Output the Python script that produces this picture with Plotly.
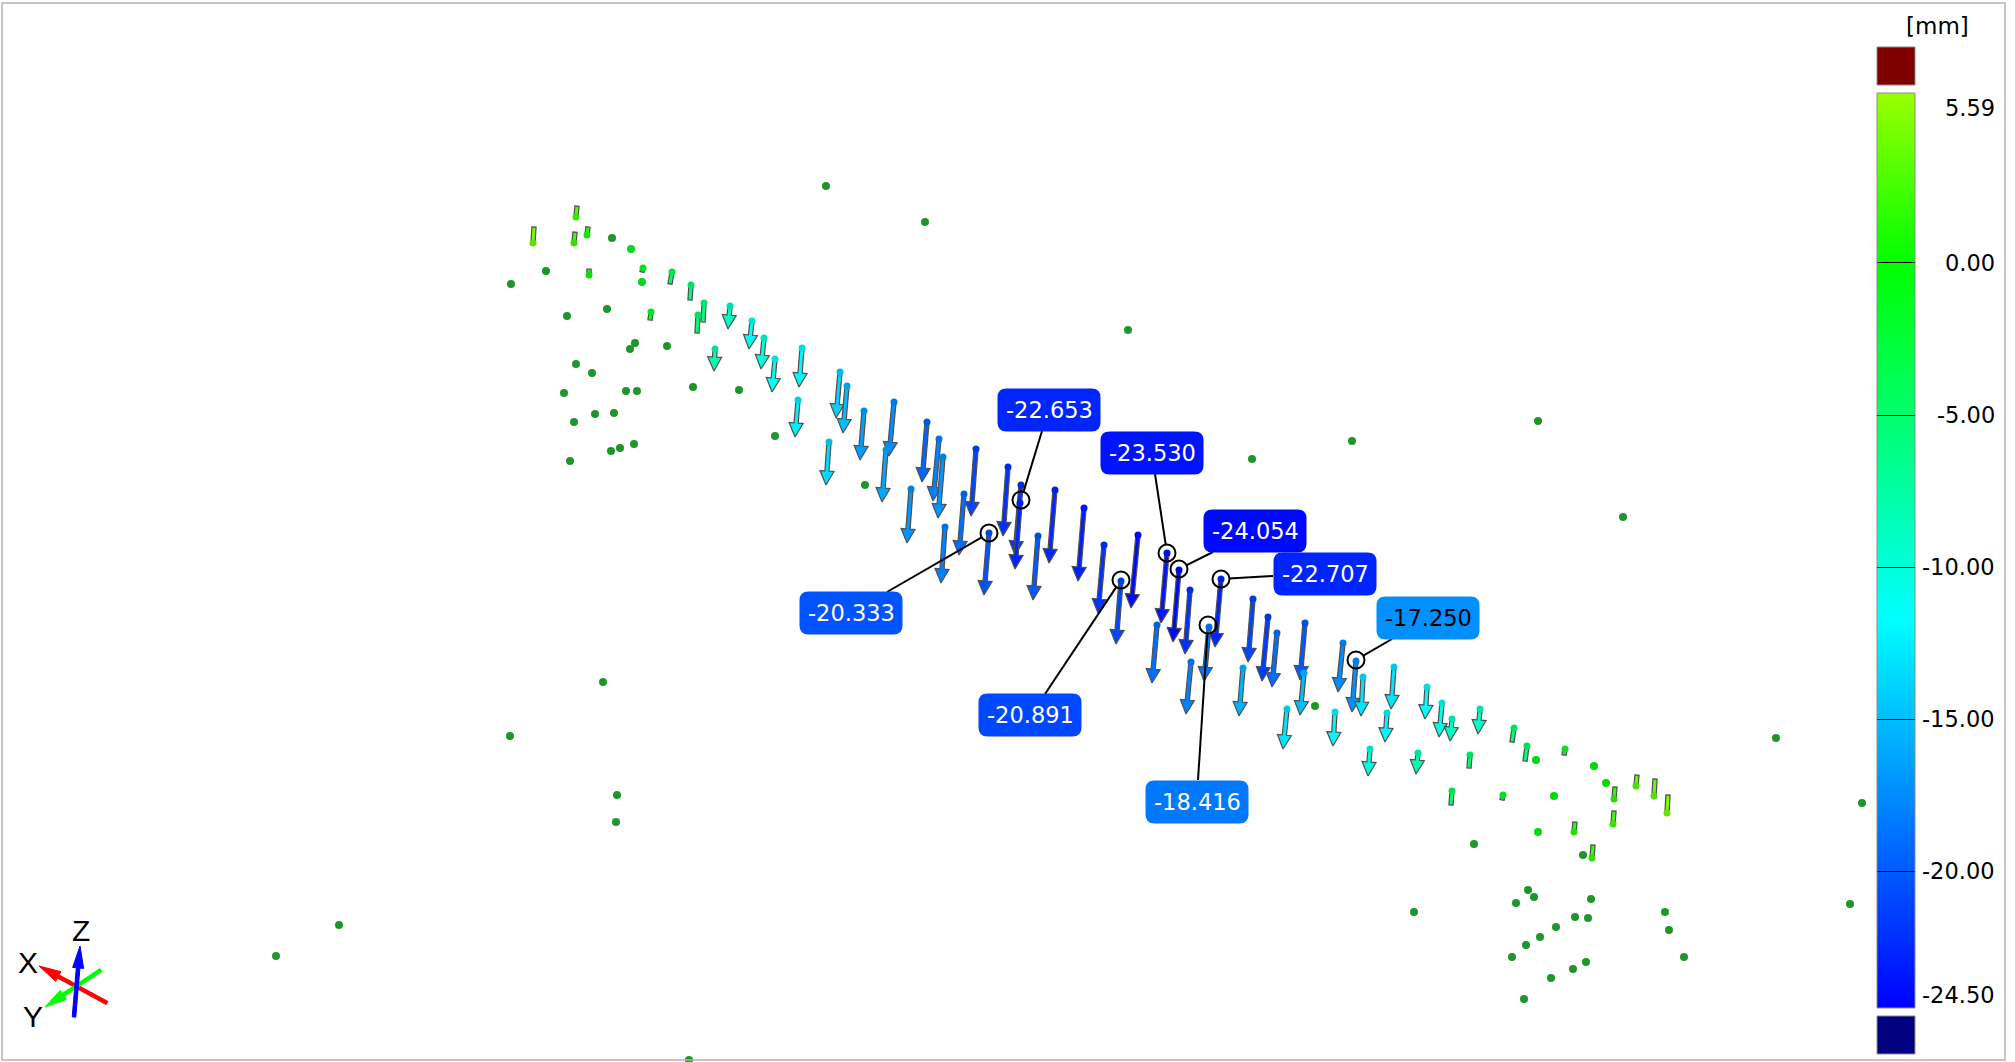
import math
import plotly.graph_objects as go

# Deviation arrows, in the picture's own screen units: ball end, tip end, value in mm
arrow_x0 = [533,576,574,587,589,643,672,691,704,698,651,730,752,764,775,802,715,840,847,864,798,
            829,894,886,927,939,943,976,911,1008,964,945,989,1021,1020,1055,1038,1084,1104,1138,1121,1167,1179,
            1190,1221,1157,1209,1191,1253,1268,1277,1305,1243,1304,1343,1356,1363,1394,1287,1335,1387,1427,1442,
            1452,1480,1370,1418,1470,1514,1527,1565,1614,1636,1654,1667,1613,1574,1592,1503,1452]
arrow_y0 = [243,217,243,235,275,268,272,285,303,315,312,306,321,338,359,348,349,372,386,411,400,
            442,402,450,422,439,457,449,489,467,494,527,533,485,503,490,536,508,545,535,581,553,570,
            590,579,625,627,662,599,617,633,623,668,673,643,661,677,667,709,712,713,687,703,
            719,709,749,753,755,728,746,749,799,786,796,813,824,832,858,795,791]
arrow_x1 = [534,577,575,588,589,642,670,690,703,697,650,728,749,761,772,799,714,836,843,860,795,
            826,889,882,922,933,938,971,907,1003,959,941,984,1015,1015,1049,1033,1078,1098,1131,1116,1161,1173,
            1185,1215,1152,1204,1186,1248,1262,1272,1300,1239,1300,1338,1352,1361,1391,1283,1333,1385,1425,1439,
            1450,1478,1368,1416,1469,1512,1525,1564,1615,1637,1655,1668,1614,1575,1593,1502,1451]
arrow_y1 = [227,206,232,227,269,272,284,300,322,333,320,329,349,369,392,387,371,418,433,460,437,
            485,456,502,482,501,518,516,543,536,555,583,595,555,569,563,600,581,613,608,644,623,642,
            654,647,683,681,714,662,681,687,680,716,715,692,712,716,709,749,746,742,719,737,
            741,734,776,774,768,742,761,755,787,775,779,795,811,822,845,800,805]
arrow_val = [4.2,2.6,2.2,1.0,0.6,-1.6,-4,-5.5,-6,-5,-2,-9,-11,-10,-11,-12,-8,-14,-15,-16.5,-12.5,
             -13.5,-17.5,-16,-19.5,-18,-17,-21,-17,-22,-19,-18,-20.333,-22,-22.653,-22.5,-20,-23,-22,-24,-20.891,-23.53,-24.054,
             -22,-22.707,-19,-18.416,-18,-21,-21.5,-19,-20,-15.5,-15,-17.5,-17.25,-13,-13,-13,-12,-12,-11.5,-10.5,
             -9,-9,-10,-8,-5,-5,-5,-2,1.5,3,3.5,4.5,2.5,1.5,2,-2,-4.5]

# Undeviated survey points drawn in dark green
point_x = [612,546,511,567,607,635,630,667,576,592,564,626,637,693,739,595,614,574,611,620,634,570,775,826,
           865,1474,1528,1534,1516,1591,1575,1588,1556,1540,1526,1512,1586,1573,1551,1524,1665,1669,1684,1414,
           925,1128,1252,1352,1538,1623,1776,1862,1850,603,510,617,616,339,276,689,1583,1315]
point_y = [238,271,284,316,309,343,349,346,364,373,393,391,391,387,390,414,413,422,451,448,444,461,436,186,
           485,844,890,897,903,899,917,918,927,937,945,957,962,969,978,999,912,930,957,912,
           222,330,459,441,421,517,738,803,904,682,736,795,822,925,956,1060,855,706]
# Brighter points coloured by value
bright_x = [631,642,1536,1594,1606,1538,1554]
bright_y = [249,282,760,766,783,832,796]
bright_val = [-2,-1.5,-1,-0.5,0.3,-1,-0.5]

# Callouts
label_text = ["-22.653","-23.530","-20.333","-24.054","-22.707","-17.250","-18.416","-20.891"]
label_val = [-22.653,-23.530,-20.333,-24.054,-22.707,-17.250,-18.416,-20.891]
label_ink = ["white","white","white","white","white","black","white","white"]
label_cx = [1049,1152,851,1255,1325,1428,1197,1030]
label_cy = [410,453,613,531,574,618,802,715]
anchor_x = [1042,1155,887,1213,1273,1392,1198,1045]
anchor_y = [431,474,592,552,576,639,780,694]
circle_x = [1021,1167,989,1179,1221,1356,1208,1121]
circle_y = [500,553,533,569,579,660,625,580]

# Colour scale
scale_ticks = [0,-5,-10,-15,-20]
scale_text = ["5.59","0.00","-5.00","-10.00","-15.00","-20.00","-24.50"]
scale_pos = [5.59,0,-5,-10,-15,-20,-24.5]
scale_nudge = [-15,0,0,0,0,0,13]
scale_min, scale_max = -24.5, 5.59
stop_val = [-24.5,-11.7,0,5.59]
stop_rgb = [(0,0,255),(0,255,255),(0,255,0),(153,255,0)]


def shade(v, k=1.0):
    v = max(scale_min, min(scale_max, v))
    for i in range(len(stop_val) - 1):
        if v <= stop_val[i + 1]:
            t = (v - stop_val[i]) / (stop_val[i + 1] - stop_val[i])
            c = [stop_rgb[i][j] + t * (stop_rgb[i + 1][j] - stop_rgb[i][j]) for j in range(3)]
            return "rgb(%d,%d,%d)" % tuple(round(x * k) for x in c)
    return "rgb(%d,%d,%d)" % stop_rgb[-1]


def arrow_outline(x0, y0, x1, y1, half=2.1, head_len=14, head_half=7, with_head=True):
    L = math.hypot(x1 - x0, y1 - y0) or 1
    ux, uy = (x1 - x0) / L, (y1 - y0) / L
    nx, ny = -uy, ux
    if not with_head:
        xs = [x0 + nx * half, x1 + nx * half, x1 - nx * half, x0 - nx * half, x0 + nx * half]
        ys = [y0 + ny * half, y1 + ny * half, y1 - ny * half, y0 - ny * half, y0 + ny * half]
        return xs, ys
    bx, by = x1 - ux * head_len, y1 - uy * head_len
    xs = [x0 + nx * half, bx + nx * half, bx + nx * head_half, x1, bx - nx * head_half,
          bx - nx * half, x0 - nx * half, x0 + nx * half]
    ys = [y0 + ny * half, by + ny * half, by + ny * head_half, y1, by - ny * head_half,
          by - ny * half, y0 - ny * half, y0 + ny * half]
    return xs, ys


fig = go.Figure()

# Colour bar as a heatmap on its own value axis
fig.add_trace(go.Heatmap(
    x=[0, 1], y=[scale_min, scale_max], z=[[scale_min, scale_min], [scale_max, scale_max]],
    zmin=scale_min, zmax=scale_max, zsmooth="best", showscale=False, hoverinfo="skip",
    colorscale=[[(v - scale_min) / (scale_max - scale_min), "rgb(%d,%d,%d)" % c] for v, c in zip(stop_val, stop_rgb)],
    xaxis="x2", yaxis="y2"))

# Arrows
for x0, y0, x1, y1, v in zip(arrow_x0, arrow_y0, arrow_x1, arrow_y1, arrow_val):
    L = math.hypot(x1 - x0, y1 - y0)
    xs, ys = arrow_outline(x0, y0, x1, y1, with_head=L >= 20)
    fig.add_trace(go.Scatter(x=xs, y=ys, mode="lines", fill="toself", fillcolor=shade(v),
                             line=dict(color="#505050", width=1.2), hoverinfo="skip", showlegend=False))
fig.add_trace(go.Scatter(x=arrow_x0, y=arrow_y0, mode="markers", hoverinfo="skip", showlegend=False,
                         marker=dict(size=7, color=[shade(v, 0.88) for v in arrow_val])))

# Points
fig.add_trace(go.Scatter(x=point_x, y=point_y, mode="markers", hoverinfo="skip", showlegend=False,
                         marker=dict(size=8, color="#1f962c")))
fig.add_trace(go.Scatter(x=bright_x, y=bright_y, mode="markers", hoverinfo="skip", showlegend=False,
                         marker=dict(size=8, color=[shade(v, 0.85) for v in bright_val])))

# Leaders and circles
for ax, ay, cx, cy in zip(anchor_x, anchor_y, circle_x, circle_y):
    d = math.hypot(ax - cx, ay - cy)
    ex, ey = cx + (ax - cx) / d * 8, cy + (ay - cy) / d * 8
    fig.add_trace(go.Scatter(x=[ax, ex], y=[ay, ey], mode="lines", line=dict(color="black", width=2),
                             hoverinfo="skip", showlegend=False))
fig.add_trace(go.Scatter(x=circle_x, y=circle_y, mode="markers", hoverinfo="skip", showlegend=False,
                         marker=dict(size=17, symbol="circle-open", color="black", line=dict(width=2, color="black"))))

# Axis triad
triad_name = ["X", "Y", "Z"]
triad_color = ["#ff0000", "#00ff00", "#0000ff"]
triad_x0 = [107, 101, 74]
triad_y0 = [1003, 970, 1017]
triad_x1 = [39, 45, 80]
triad_y1 = [966, 1007, 946]
triad_label_x = [28, 33, 81]
triad_label_y = [962, 1016, 930]
for x0, y0, x1, y1, c in zip(triad_x0, triad_y0, triad_x1, triad_y1, triad_color):
    xs, ys = arrow_outline(x0, y0, x1, y1, half=1.8, head_len=22, head_half=5.5)
    fig.add_trace(go.Scatter(x=xs, y=ys, mode="lines", fill="toself", fillcolor=c,
                             line=dict(color=c, width=1), hoverinfo="skip", showlegend=False))

shapes = []
annotations = []


def rrect(x0, y0, x1, y1, r):
    return (f"M{x0+r},{y0} L{x1-r},{y0} Q{x1},{y0} {x1},{y0+r} L{x1},{y1-r} Q{x1},{y1} {x1-r},{y1} "
            f"L{x0+r},{y1} Q{x0},{y1} {x0},{y1-r} L{x0},{y0+r} Q{x0},{y0} {x0+r},{y0} Z")


for t, v, ink, cx, cy in zip(label_text, label_val, label_ink, label_cx, label_cy):
    shapes.append(dict(type="path", path=rrect(cx - 51.5, cy - 21.5, cx + 51.5, cy + 21.5, 9),
                       xref="x", yref="y", fillcolor=shade(v), line=dict(width=0), layer="above"))
    annotations.append(dict(x=cx, y=cy, xref="x", yref="y", text=t, showarrow=False,
                            font=dict(family="DejaVu Sans", size=22.5, color=ink)))

for n, x, y in zip(triad_name, triad_label_x, triad_label_y):
    annotations.append(dict(x=x, y=y, xref="x", yref="y", text=n, showarrow=False,
                            font=dict(family="Liberation Sans", size=30, color="black")))

for t, p, nudge in zip(scale_text, scale_pos, scale_nudge):
    annotations.append(dict(x=1997, y=p, xref="x", yref="y2", text=t, showarrow=False, xanchor="right",
                            yshift=nudge, font=dict(family="DejaVu Sans", size=22.5, color="black")))
annotations.append(dict(x=1937, y=26, xref="x", yref="y", text="[mm]", showarrow=False,
                        font=dict(family="DejaVu Sans", size=23, color="black")))

# Out-of-range boxes, bar border, frame
shapes.append(dict(type="rect", x0=1877, x1=1915, y0=47, y1=85, xref="x", yref="y",
                   fillcolor="#800000", line=dict(color="#8c8c8c", width=1)))
shapes.append(dict(type="rect", x0=1877, x1=1915, y0=1016, y1=1054, xref="x", yref="y",
                   fillcolor="#000080", line=dict(color="#8c8c8c", width=1)))
shapes.append(dict(type="rect", x0=1877, x1=1915, y0=93, y1=1008, xref="x", yref="y",
                   line=dict(color="#8c8c8c", width=1), layer="above"))
shapes.append(dict(type="rect", x0=2, x1=2005, y0=3, y1=1060, xref="x", yref="y",
                   line=dict(color="#b4b4b4", width=1.5), layer="above"))

W, H = 2015, 1062
fig.update_layout(
    width=W, height=H, margin=dict(l=0, r=0, t=0, b=0), paper_bgcolor="white", plot_bgcolor="white",
    showlegend=False, shapes=shapes, annotations=annotations,
    xaxis=dict(range=[0, W], visible=False, domain=[0, 1]),
    yaxis=dict(range=[H, 0], visible=False, domain=[0, 1]),
    xaxis2=dict(range=[0, 1], visible=False, domain=[1877 / W, 1915 / W], anchor="y2"),
    yaxis2=dict(range=[scale_min, scale_max], domain=[1 - 1008 / H, 1 - 93 / H], anchor="x2",
                tickvals=scale_ticks, ticks="inside", ticklen=38, tickcolor="black", tickwidth=1,
                showticklabels=False, showgrid=False, zeroline=False, showline=False),
)

fig.write_html("out.html", config={"displayModeBar": False},
               post_script="document.body.style.margin='0';document.body.style.overflow='hidden';")
